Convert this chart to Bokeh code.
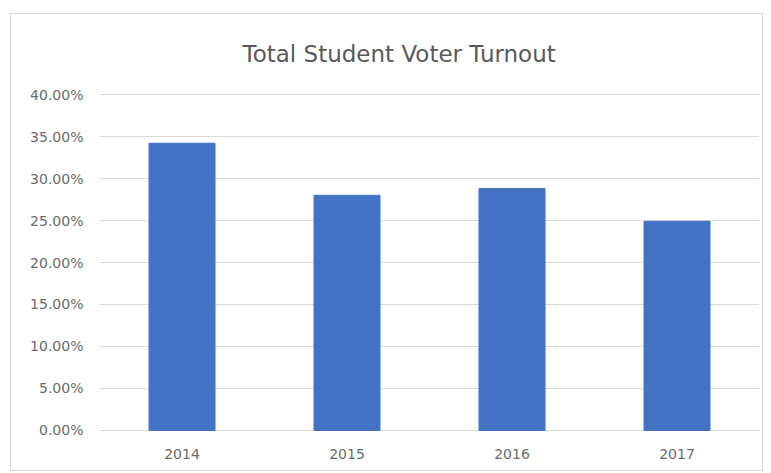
from bokeh.plotting import figure
from bokeh.models import FactorRange, Range1d, FixedTicker, NumeralTickFormatter
from bokeh.embed import file_html
from bokeh.resources import INLINE

years = ["2014", "2015", "2016", "2017"]
turnout = [0.342, 0.280, 0.288, 0.249]
y_ticks = [0.0, 0.05, 0.10, 0.15, 0.20, 0.25, 0.30, 0.35, 0.40]
title_text = "Total Student Voter Turnout"

p = figure(
    x_range=FactorRange(factors=years, range_padding=0),
    y_range=Range1d(-0.0012, 0.4012),
    width=753, height=458,
    output_backend="svg", toolbar_location=None,
    min_border_left=88, min_border_right=5, min_border_top=79, min_border_bottom=41,
    title=title_text,
)
p.margin = (13, 0, 0, 10)
p.styles = {"border": "1px solid #d9d9d9"}
p.outline_line_color = None
p.background_fill_color = "white"
p.border_fill_color = "white"

p.title.align = "left"
p.title.offset = 143
p.title.text_font = "DejaVu Sans"
p.title.text_font_size = "23px"
p.title.text_font_style = "normal"
p.title.text_color = "#595959"
p.title.standoff = 50
p.title.vertical_align = "top"

p.vbar(x=years, top=turnout, width=0.4, color="#4472C4")

p.xgrid.grid_line_color = None
p.ygrid.grid_line_color = "#d9d9d9"
p.ygrid.grid_line_width = 1

p.yaxis.ticker = FixedTicker(ticks=y_ticks)
p.yaxis.formatter = NumeralTickFormatter(format="0.00%")
for ax in (p.xaxis[0], p.yaxis[0]):
    ax.axis_line_color = None
    ax.major_tick_line_color = None
    ax.minor_tick_line_color = None
    ax.major_tick_out = 0
    ax.major_tick_in = 0
    ax.major_label_text_font = "DejaVu Sans"
    ax.major_label_text_font_size = "14px"
    ax.major_label_text_color = "#6b6b6b"
p.yaxis.major_label_standoff = 16
p.xaxis.major_label_standoff = 17

open("out.html", "w").write(file_html(p, INLINE))
